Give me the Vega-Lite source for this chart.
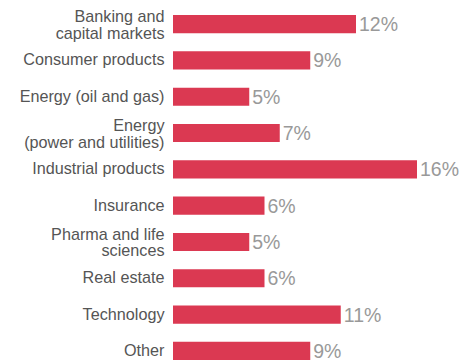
{
  "$schema": "https://vega.github.io/schema/vega-lite/v6.json",
  "width": 244,
  "height": 345,
  "autosize": "none",
  "padding": {"left": 173, "top": 15, "right": 57, "bottom": 2},
  "config": {"view": {"stroke": null}},
  "data": {
    "values": [
      {"sector": "Banking and|capital markets", "value": 0.12},
      {"sector": "Consumer products", "value": 0.09},
      {"sector": "Energy (oil and gas)", "value": 0.05},
      {"sector": "Energy|(power and utilities)", "value": 0.07},
      {"sector": "Industrial products", "value": 0.16},
      {"sector": "Insurance", "value": 0.06},
      {"sector": "Pharma and life|sciences", "value": 0.05},
      {"sector": "Real estate", "value": 0.06},
      {"sector": "Technology", "value": 0.11},
      {"sector": "Other", "value": 0.09}
    ]
  },
  "encoding": {
    "y": {
      "field": "sector",
      "type": "nominal",
      "sort": null,
      "scale": {"paddingInner": 0.5, "paddingOuter": 0},
      "axis": {
        "title": null,
        "domain": false,
        "ticks": false,
        "labelPadding": 9,
        "labelFont": "Liberation Sans",
        "labelFontSize": 16.2,
        "labelColor": "#555555",
        "labelLineHeight": 16.5,
        "labelOffset": {"condition": {"test": "indexof(datum.value, '|') >= 0", "value": -7}, "value": 0},
        "labelExpr": "split(datum.value, '|')",
        "labelLimit": 200
      }
    },
    "x": {
      "field": "value",
      "type": "quantitative",
      "scale": {"domain": [0, 0.16]},
      "axis": null
    }
  },
  "layer": [
    {"mark": {"type": "bar", "color": "#db3952"}},
    {
      "mark": {
        "type": "text",
        "align": "left",
        "baseline": "middle",
        "dx": 3,
        "dy": 1,
        "font": "Liberation Sans",
        "fontSize": 19.5,
        "color": "#999999"
      },
      "encoding": {"text": {"field": "value", "type": "quantitative", "format": ".0%"}}
    }
  ]
}
